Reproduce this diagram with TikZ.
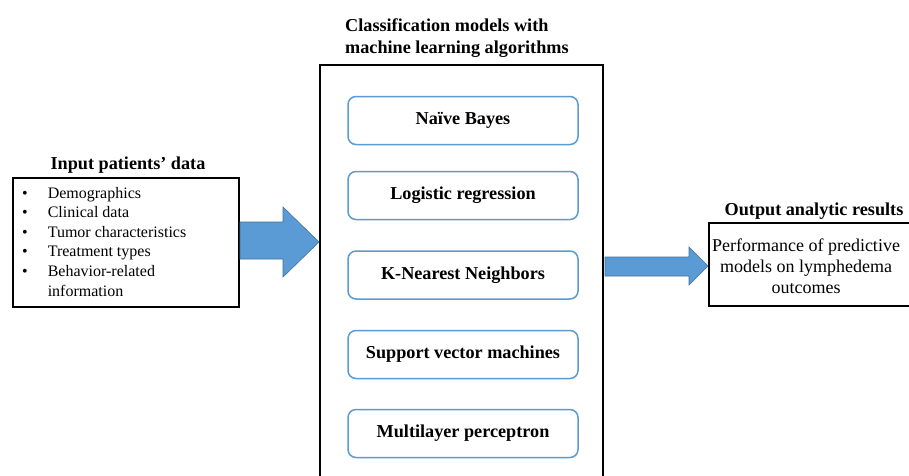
\documentclass[tikz,border=0pt]{standalone}
\usepackage{fontspec}
\setmainfont{Liberation Serif}
\definecolor{blockblue}{HTML}{5B9BD5}
\definecolor{blockedge}{HTML}{41719C}
\begin{document}
\begin{tikzpicture}[x=1pt,y=-1pt,
  frame/.style={draw=black, line width=2pt, inner sep=0pt},
  algo/.style={draw=blockblue, line width=1.5pt, rounded corners=8pt, minimum width=230pt, minimum height=48pt, inner sep=0pt, font=\fontsize{18.2}{21}\selectfont\bfseries},
  title/.style={inner sep=0pt, font=\fontsize{18.2}{22}\selectfont\bfseries},
  bodytext/.style={inner sep=0pt, font=\fontsize{18}{21}\selectfont},
  blockarrow/.style={fill=blockblue, draw=blockedge, line width=0.6pt, line join=miter}]
\clip (0,0) rectangle (909,475);
\fill[white] (0,0) rectangle (909,475);

% middle frame
\node[frame, anchor=north west, minimum width=283pt, minimum height=440pt] (mid) at (319,64) {};
\node[title, anchor=north west, align=left] (midtitle) at (345,18.5) {Classification models with\\machine learning algorithms};

\node[algo] (nb) at (463,120.5) {Naïve Bayes};
\node[algo] (lr) at (463,195.5) {Logistic regression};
\node[algo] (knn) at (463,275) {K-Nearest Neighbors};
\node[algo] (svm) at (463,354.5) {Support vector machines};
\node[algo] (mlp) at (463,433.5) {Multilayer perceptron};

% input box
\node[frame, anchor=north west, minimum width=226pt, minimum height=129pt] (inbox) at (12,177) {};
\node[title, anchor=base] (intitle) at (128,169) {Input patients’ data};
\node[inner sep=0pt, anchor=base west, font=\fontsize{16}{19.6}\selectfont] (inlist) at (22,198)
{\begin{tabular}[t]{@{}l@{\hspace{20pt}}l@{}}
\textbullet & Demographics\\
\textbullet & Clinical data\\
\textbullet & Tumor characteristics\\
\textbullet & Treatment types\\
\textbullet & Behavior-related\\
 & information
\end{tabular}};

% output box
\node[frame, anchor=north west, minimum width=260pt, minimum height=83pt] (outbox) at (708,222) {};
\node[title, anchor=base] (outtitle) at (814,215) {Output analytic results};
\node[bodytext, align=center] (outtext) at (806,266) {Performance of predictive\\models on lymphedema\\outcomes};

% block arrows
\coordinate (a1tip) at (mid.west |- 0,242);
\draw[blockarrow] (inbox.east |- 0,222) -- (283,222) -- (283,207) -- (a1tip) -- (283,277) -- (283,259) -- (inbox.east |- 0,259) -- cycle;
\coordinate (a2tip) at (outbox.west |- 0,266);
\draw[blockarrow] (605,257) -- (689,257) -- (689,247) -- (a2tip) -- (689,285) -- (689,276) -- (605,276) -- cycle;
\end{tikzpicture}
\end{document}
